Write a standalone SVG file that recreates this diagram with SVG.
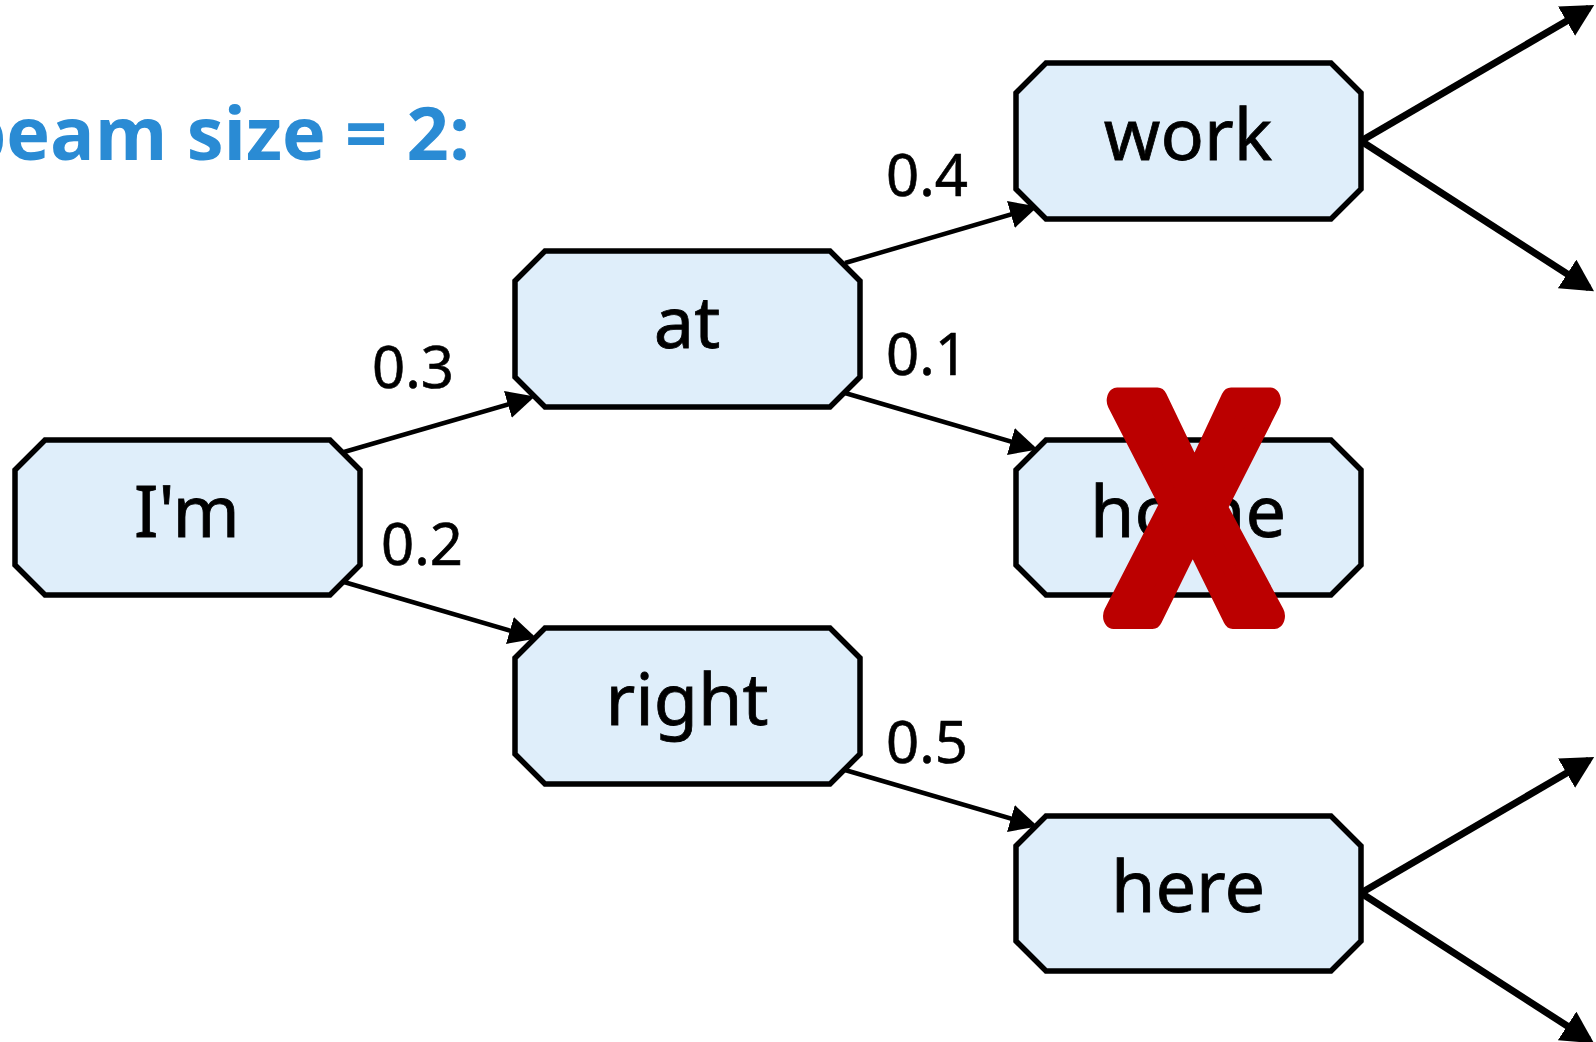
<svg xmlns="http://www.w3.org/2000/svg" width="1596" height="1042" viewBox="0 0 1596 1042">
<defs>
<style>
.node{fill:#dfeefa;stroke:#000;stroke-width:5.5;stroke-linejoin:miter}
.lbl{font-family:"Noto Sans","Open Sans",sans-serif;font-size:72px;fill:#000;text-anchor:middle;stroke:#000;stroke-width:0.8}
.p{font-family:"Noto Sans","Open Sans",sans-serif;font-size:58px;fill:#000;stroke:#000;stroke-width:0.6}
.c{stroke:#000;stroke-width:4.5;fill:none}
.o{stroke:#000;stroke-width:7;fill:none}
</style>
<marker id="a" markerUnits="userSpaceOnUse" markerWidth="28" markerHeight="28" refX="23" refY="14" orient="auto" viewBox="0 0 28 28">
<path d="M0,0 L28,14 L0,28 z" fill="#000"/>
</marker>
<marker id="b" markerUnits="userSpaceOnUse" markerWidth="32" markerHeight="34" refX="26" refY="17" orient="auto" viewBox="0 0 32 34">
<path d="M0,0 L32,17 L0,34 z" fill="#000"/>
</marker>
</defs>
<rect width="1596" height="1042" fill="#fff"/>
<text x="470" y="160" text-anchor="end" font-family="'Open Sans','Noto Sans',sans-serif" font-weight="bold" font-size="74" fill="#2a8bd4">beam size = 2:</text>
<g id="connectors">
<line class="c" x1="344" y1="452" x2="530" y2="398" marker-end="url(#a)"/>
<line class="c" x1="344" y1="582" x2="532" y2="637" marker-end="url(#a)"/>
<line class="c" x1="845" y1="263" x2="1033" y2="208" marker-end="url(#a)"/>
<line class="c" x1="845" y1="393" x2="1033" y2="448" marker-end="url(#a)"/>
<line class="c" x1="845" y1="770" x2="1033" y2="825" marker-end="url(#a)"/>
<line class="o" x1="1361" y1="141" x2="1589" y2="8" marker-end="url(#b)"/>
<line class="o" x1="1361" y1="141" x2="1589" y2="288" marker-end="url(#b)"/>
<line class="o" x1="1361" y1="893" x2="1589" y2="760" marker-end="url(#b)"/>
<line class="o" x1="1361" y1="893" x2="1589" y2="1040" marker-end="url(#b)"/>
<text class="p" x="372" y="388">0.3</text>
<text class="p" x="381" y="565">0.2</text>
<text class="p" x="886" y="196">0.4</text>
<text class="p" x="886" y="375">0.1</text>
<text class="p" x="886" y="763">0.5</text>
</g>
<g id="n-im">
<path class="node" d="M45,440 H330 L360,470 V565 L330,595 H45 L15,565 V470 Z"/>
<text class="lbl" x="187" y="537">I'm</text>
</g>
<g id="n-at">
<path class="node" d="M545,251 H830 L860,281 V377 L830,407 H545 L515,377 V281 Z"/>
<text class="lbl" x="687" y="348">at</text>
</g>
<g id="n-right">
<path class="node" d="M545,628 H830 L860,658 V754 L830,784 H545 L515,754 V658 Z"/>
<text class="lbl" x="687" y="725">right</text>
</g>
<g id="n-work">
<path class="node" d="M1046,63 H1331 L1361,93 V189 L1331,219 H1046 L1016,189 V93 Z"/>
<text class="lbl" x="1188" y="160">work</text>
</g>
<g id="n-home">
<path class="node" d="M1046,440 H1331 L1361,470 V565 L1331,595 H1046 L1016,565 V470 Z"/>
<text class="lbl" x="1188" y="537">home</text>
</g>
<g id="n-here">
<path class="node" d="M1046,816 H1331 L1361,846 V941 L1331,971 H1046 L1016,941 V846 Z"/>
<text class="lbl" x="1188" y="912">here</text>
</g>
<text transform="translate(1194,616) scale(0.8,1)" x="0" y="0" text-anchor="middle" font-family="'Open Sans','Noto Sans',sans-serif" font-weight="bold" font-size="302" fill="#bb0000" stroke="#bb0000" stroke-width="26" stroke-linejoin="round">X</text>
</svg>
